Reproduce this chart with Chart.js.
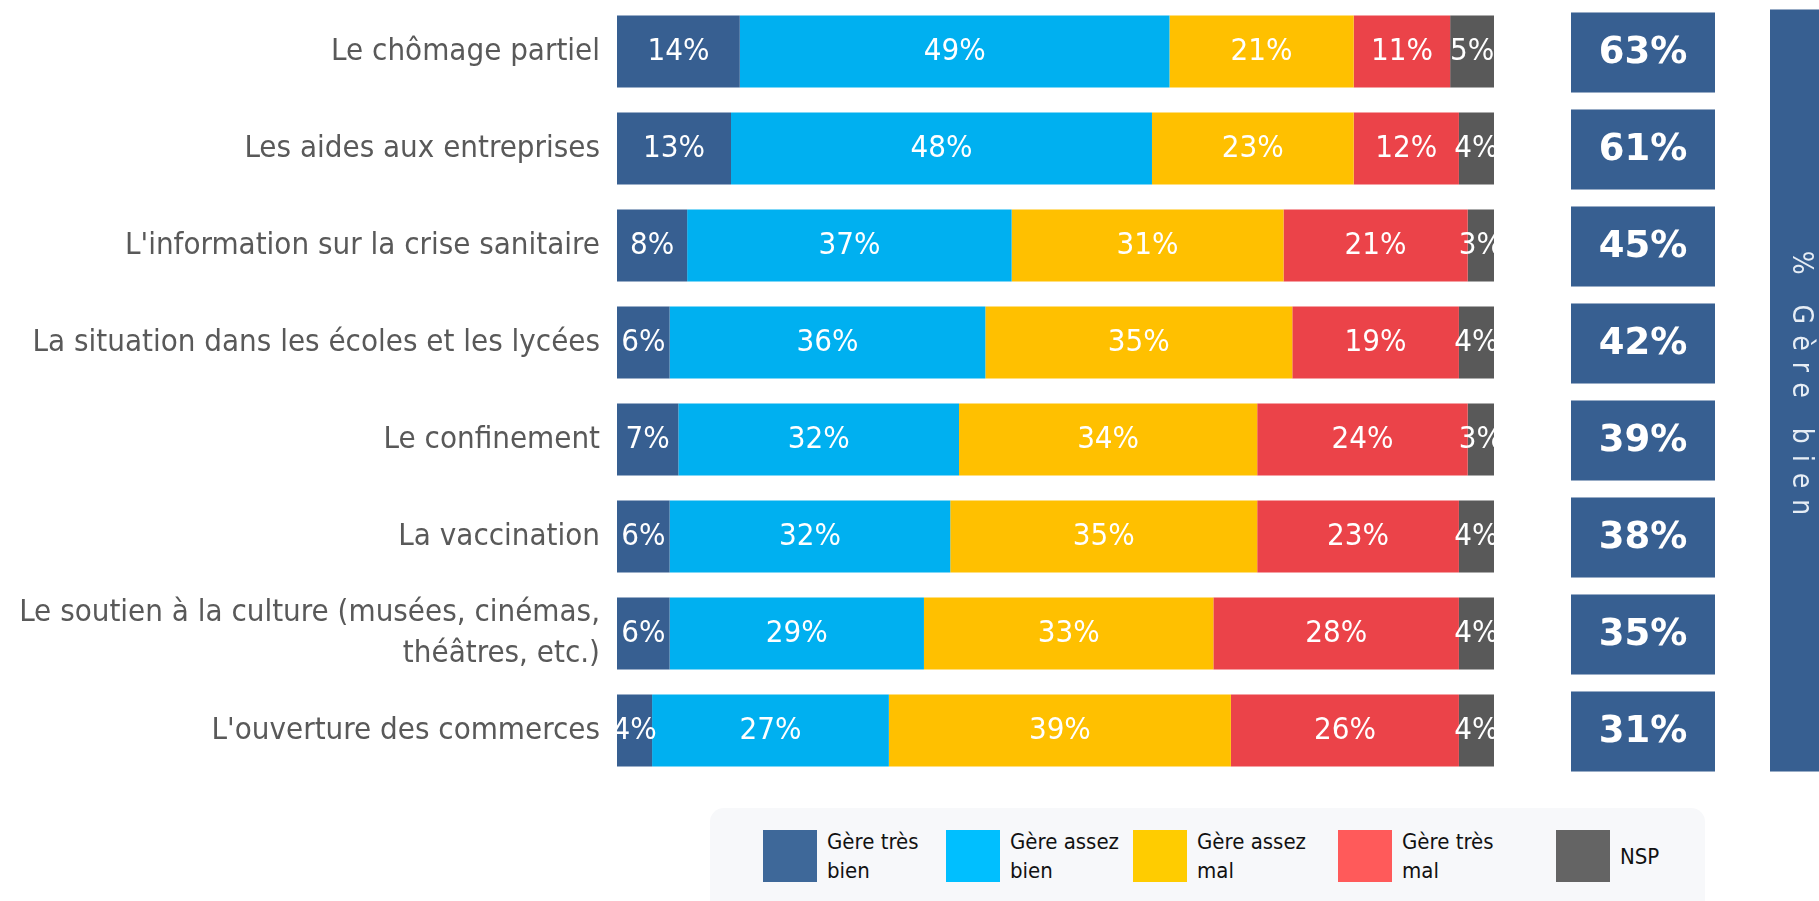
<!DOCTYPE html>
<html>
<head>
<meta charset="utf-8">
<script src="https://cdn.jsdelivr.net/npm/chart.js@4.4.1/dist/chart.umd.min.js"></script>
<style>
  html, body { margin: 0; padding: 0; background: #fff; }
  #wrap { position: relative; width: 1819px; height: 901px; overflow: hidden; }
  #chart { position: absolute; left: 0; top: 0; }
  #legend { position: absolute; left: 710px; top: 808px; width: 995px; height: 110px; background: #f7f8fa; border-radius: 14px; }
  .item { position: absolute; top: 22px; height: 52px; display: flex; align-items: center; }
  .swatch { width: 54px; height: 52px; margin-right: 10px; flex: none; }
  .txt { font-family: 'DejaVu Sans Condensed', 'DejaVu Sans', sans-serif; font-size: 22px; line-height: 29px; color: #111; max-width: 125px; }
</style>
</head>
<body>
<div id="wrap">
  <canvas id="chart" width="1819" height="901"></canvas>
  <div id="legend"></div>
</div>
<script>
const categories = [
  'Le chômage partiel',
  'Les aides aux entreprises',
  "L'information sur la crise sanitaire",
  'La situation dans les écoles et les lycées',
  'Le confinement',
  'La vaccination',
  ['Le soutien à la culture (musées, cinémas,', 'théâtres, etc.)'],
  "L'ouverture des commerces"
];
const tresBien = [14, 13, 8, 6, 7, 6, 6, 4];
const assezBien = [49, 48, 37, 36, 32, 32, 29, 27];
const assezMal = [21, 23, 31, 35, 34, 35, 33, 39];
const tresMal = [11, 12, 21, 19, 24, 23, 28, 26];
const nsp = [5, 4, 3, 4, 3, 4, 4, 4];
const gereBien = [63, 61, 45, 42, 39, 38, 35, 31]; // right-hand boxes
const seriesNames = ['Gère très bien', 'Gère assez bien', 'Gère assez mal', 'Gère très mal', 'NSP'];
const barColors = ['#375f91', '#00b0f0', '#ffc000', '#eb4349', '#595959'];
const legendColors = ['#3e6899', '#00bfff', '#ffcc00', '#ff5a5a', '#646464'];
const sideTitle = '% Gère bien';

const FONT = "'DejaVu Sans Condensed', 'DejaVu Sans', sans-serif";
const seriesValues = [tresBien, assezBien, assezMal, tresMal, nsp];

// white % labels in the middle of every segment
const segmentLabels = {
  id: 'segmentLabels',
  afterDatasetsDraw(chart) {
    const ctx = chart.ctx;
    ctx.save();
    ctx.fillStyle = '#ffffff';
    ctx.font = '31px ' + FONT;
    ctx.textAlign = 'center';
    ctx.textBaseline = 'middle';
    chart.data.datasets.forEach((ds, i) => {
      chart.getDatasetMeta(i).data.forEach((bar, j) => {
        ctx.fillText(ds.data[j] + '%', (bar.x + bar.base) / 2, bar.y);
      });
    });
    ctx.restore();
  }
};

// "% Gère bien" boxes + vertical banner on the right
const sidePanel = {
  id: 'sidePanel',
  afterDraw(chart) {
    const ctx = chart.ctx;
    const y = chart.scales.y;
    const area = chart.chartArea;
    const step = y.getPixelForValue(1) - y.getPixelForValue(0);
    const boxH = step * 0.825;
    const boxL = area.right + 77;
    const boxW = 144;
    ctx.save();
    gereBien.forEach((v, i) => {
      const cy = y.getPixelForValue(i) + 1;
      ctx.fillStyle = '#375f91';
      ctx.fillRect(boxL, cy - boxH / 2, boxW, boxH);
      ctx.fillStyle = '#ffffff';
      ctx.font = "bold 37px 'DejaVu Sans', sans-serif";
      ctx.textAlign = 'center';
      ctx.textBaseline = 'middle';
      ctx.fillText(v + '%', boxL + boxW / 2, cy + 1);
    });

    const top = y.getPixelForValue(0) + 1 - boxH / 2 - 3;
    const bottom = y.getPixelForValue(gereBien.length - 1) + 1 + boxH / 2;
    const bannerL = area.right + 276;
    ctx.fillStyle = '#375f91';
    ctx.fillRect(bannerL, top, chart.width - bannerL, bottom - top);

    ctx.translate(bannerL + 30, (top + bottom) / 2);
    ctx.rotate(Math.PI / 2);
    ctx.fillStyle = '#e6edf5';
    ctx.font = '28px ' + FONT;
    ctx.letterSpacing = '11px';
    ctx.textAlign = 'center';
    ctx.textBaseline = 'middle';
    ctx.fillText(sideTitle, -2, 0);
    ctx.restore();
  }
};

const chart = new Chart(document.getElementById('chart'), {
  type: 'bar',
  data: {
    labels: categories,
    datasets: seriesNames.map((name, i) => ({
      label: name,
      data: seriesValues[i],
      backgroundColor: barColors[i],
      barPercentage: 0.742,
      categoryPercentage: 1
    }))
  },
  options: {
    indexAxis: 'y',
    responsive: false,
    animation: false,
    layout: { padding: { top: 3, bottom: 122, right: 325, left: 0 } },
    scales: {
      x: { stacked: true, min: 0, max: 100, display: false },
      y: {
        stacked: true,
        grid: { display: false },
        border: { display: false },
        ticks: { color: '#595959', padding: 9, font: { family: FONT, size: 31, lineHeight: 1.3 } },
        afterFit(scale) {
          scale.width = 617;
          scale.paddingTop = 0;
          scale.paddingBottom = 0;
        }
      }
    },
    plugins: { legend: { display: false }, tooltip: { enabled: false } }
  },
  plugins: [segmentLabels, sidePanel]
});

// HTML legend built from the datasets
const legendLefts = [53, 236, 423, 628, 846];
const legendBox = document.getElementById('legend');
chart.data.datasets.forEach((ds, i) => {
  const item = document.createElement('div');
  item.className = 'item';
  item.style.left = legendLefts[i] + 'px';
  const sw = document.createElement('div');
  sw.className = 'swatch';
  sw.style.background = legendColors[i];
  const txt = document.createElement('div');
  txt.className = 'txt';
  txt.textContent = ds.label;
  item.appendChild(sw);
  item.appendChild(txt);
  legendBox.appendChild(item);
});
</script>
</body>
</html>
